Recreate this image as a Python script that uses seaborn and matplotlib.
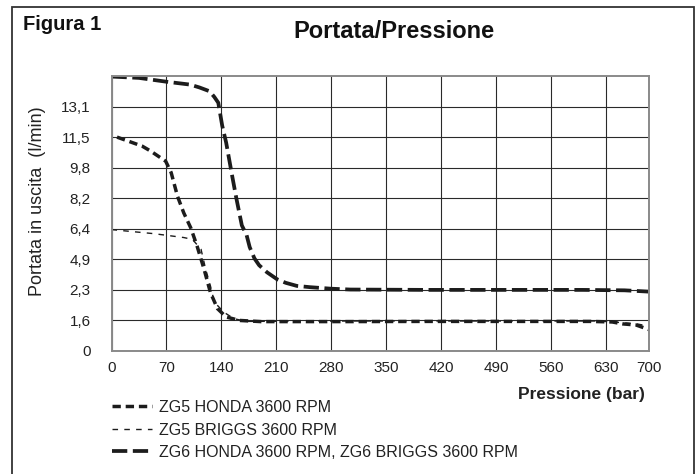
import numpy as np
import pandas as pd
import matplotlib
matplotlib.use("Agg")
import matplotlib.pyplot as plt
import matplotlib.patches as patches
import seaborn as sns

# flow (l/min), pressure in bar
P_ZG6 = [0, 35, 70, 100, 112, 125, 131, 136, 141, 146, 154, 159, 166, 172, 176,
         182, 188, 198, 211, 222, 236, 253, 280, 304, 400, 500, 600, 660, 700]
Q_ZG6 = [14.67, 14.6, 14.4, 14.25, 14.1, 13.9, 13.6, 13.3, 12.1, 11.2, 9.3,
         8.2, 6.6, 6.1, 5.5, 4.95, 4.4, 3.8, 3.2, 2.9, 2.64, 2.53, 2.4, 2.33,
         2.3, 2.3, 2.3, 2.29, 2.26]

P_ZG5_HONDA = [7, 39, 50, 69, 76, 84, 92, 101, 109, 118, 126, 135, 146, 163,
               190, 300, 400, 500, 610, 640, 657, 679, 700]
Q_ZG5_HONDA = [11.5, 11.0, 10.72, 10.16, 9.54, 8.31, 7.34, 6.45, 5.55, 4.04,
               2.24, 1.87, 1.68, 1.6, 1.54, 1.54, 1.55, 1.55, 1.55, 1.52, 1.42,
               1.36, 1.12]

P_ZG5_BRIGGS = [0, 54, 92, 103, 114, 120, 126, 131, 143, 156, 172, 300, 400,
                500, 620, 650, 680, 700]
Q_ZG5_BRIGGS = [6.36, 6.16, 5.97, 5.88, 5.4, 4.04, 2.64, 2.02, 1.79, 1.64,
                1.55, 1.57, 1.57, 1.57, 1.57, 1.5, 1.42, 1.3]

LABELS = ["ZG5 HONDA 3600 RPM", "ZG5 BRIGGS 3600 RPM",
          "ZG6 HONDA 3600 RPM, ZG6 BRIGGS 3600 RPM"]

Y_TICKS = [0, 1.6, 2.3, 4.9, 6.4, 8.2, 9.8, 11.5, 13.1]
Y_TICKLABELS = ["0", "1,6", "2,3", "4,9", "6,4", "8,2", "9,8", "11,5", "13,1"]
Y_TOP = 14.7
X_TICKS = [0, 70, 140, 210, 280, 350, 420, 490, 560, 630, 700]
X_LAST_STEP = 0.78  # the 630-700 cell is drawn narrower than the others

sns.set_theme(style="white")
plt.rcParams["font.family"] = ["Liberation Sans", "DejaVu Sans"]
plt.rcParams["lines.scale_dashes"] = False

# both axes are evenly spaced between their tick values
y_knots = np.array(Y_TICKS + [Y_TOP])
y_steps = np.arange(len(y_knots), dtype=float)
x_knots = np.array(X_TICKS, dtype=float)
x_steps = np.arange(len(x_knots), dtype=float)
x_steps[-1] = x_steps[-2] + X_LAST_STEP


def y_fwd(v):
    return np.interp(v, y_knots, y_steps)


def y_inv(i):
    return np.interp(i, y_steps, y_knots)


def x_fwd(v):
    return np.interp(v, x_knots, x_steps)


def x_inv(i):
    return np.interp(i, x_steps, x_knots)


fig = plt.figure(figsize=(6.99, 4.74), dpi=100)
ax = fig.add_axes([111.5 / 699, 1 - 351 / 474, 537.5 / 699, 275 / 474])
ax.set_yscale("function", functions=(y_fwd, y_inv))
ax.set_xscale("function", functions=(x_fwd, x_inv))

ink = "#1c1c1c"
sns.lineplot(x=P_ZG5_HONDA, y=Q_ZG5_HONDA, ax=ax, color=ink, lw=2.5,
             linestyle=(0, (6, 3.5)), label=LABELS[0])
sns.lineplot(x=P_ZG5_BRIGGS, y=Q_ZG5_BRIGGS, ax=ax, color=ink, lw=1.0,
             linestyle=(0, (4, 4.5)), label=LABELS[1])
sns.lineplot(x=P_ZG6, y=Q_ZG6, ax=ax, color=ink, lw=2.7,
             linestyle=(0, (11, 4)), label=LABELS[2])

ax.set_xlim(0, 700)
ax.set_ylim(0, Y_TOP)
ax.set_xticks(X_TICKS)
ax.set_xticklabels([str(v) for v in X_TICKS])
ax.set_yticks(Y_TICKS)
ax.set_yticklabels(Y_TICKLABELS)
ax.minorticks_off()
ax.grid(True, color="#2a2a2a", lw=0.8)
for s in ax.spines.values():
    s.set_visible(True)
    s.set_color("#8a8a8a")
    s.set_linewidth(1.4)
ax.tick_params(axis="x", length=3, width=1, color="#8a8a8a", pad=4,
               labelsize=11, labelcolor="#222")
ax.tick_params(axis="y", length=0, pad=15, labelsize=11, labelcolor="#222")
ax.set_xlabel("")
ax.set_ylabel("")

fig.text(394 / 699, 1 - 32 / 474, "Portata/Pressione", ha="center", va="center",
         fontsize=17, fontweight="bold", color="#111")
fig.text(23 / 699, 1 - 25 / 474, "Figura 1", ha="left", va="center",
         fontsize=14.5, fontweight="bold", color="#111")
fig.text(38 / 699, 1 - 201 / 474, "Portata in uscita  (l/min)", rotation=90,
         ha="center", va="center", fontsize=13, color="#222")
fig.text(645 / 699, 1 - 395 / 474, "Pressione (bar)", ha="right", va="center",
         fontsize=12.5, fontweight="bold", color="#222")

ax.legend(loc="upper left", bbox_to_anchor=(112 / 699, 1 - 400 / 474),
          bbox_transform=fig.transFigure, frameon=False, fontsize=11.5,
          handlelength=2.5, handletextpad=0.45, labelspacing=0.47,
          borderpad=0, borderaxespad=0, labelcolor="#222")

frame = patches.Rectangle((12 / 699, -0.05), 682 / 699, 1.05 - 7 / 474,
                          transform=fig.transFigure, fill=False,
                          ec="#333", lw=1.3, clip_on=False)
fig.add_artist(frame)

fig.savefig("out.png", dpi=100)
